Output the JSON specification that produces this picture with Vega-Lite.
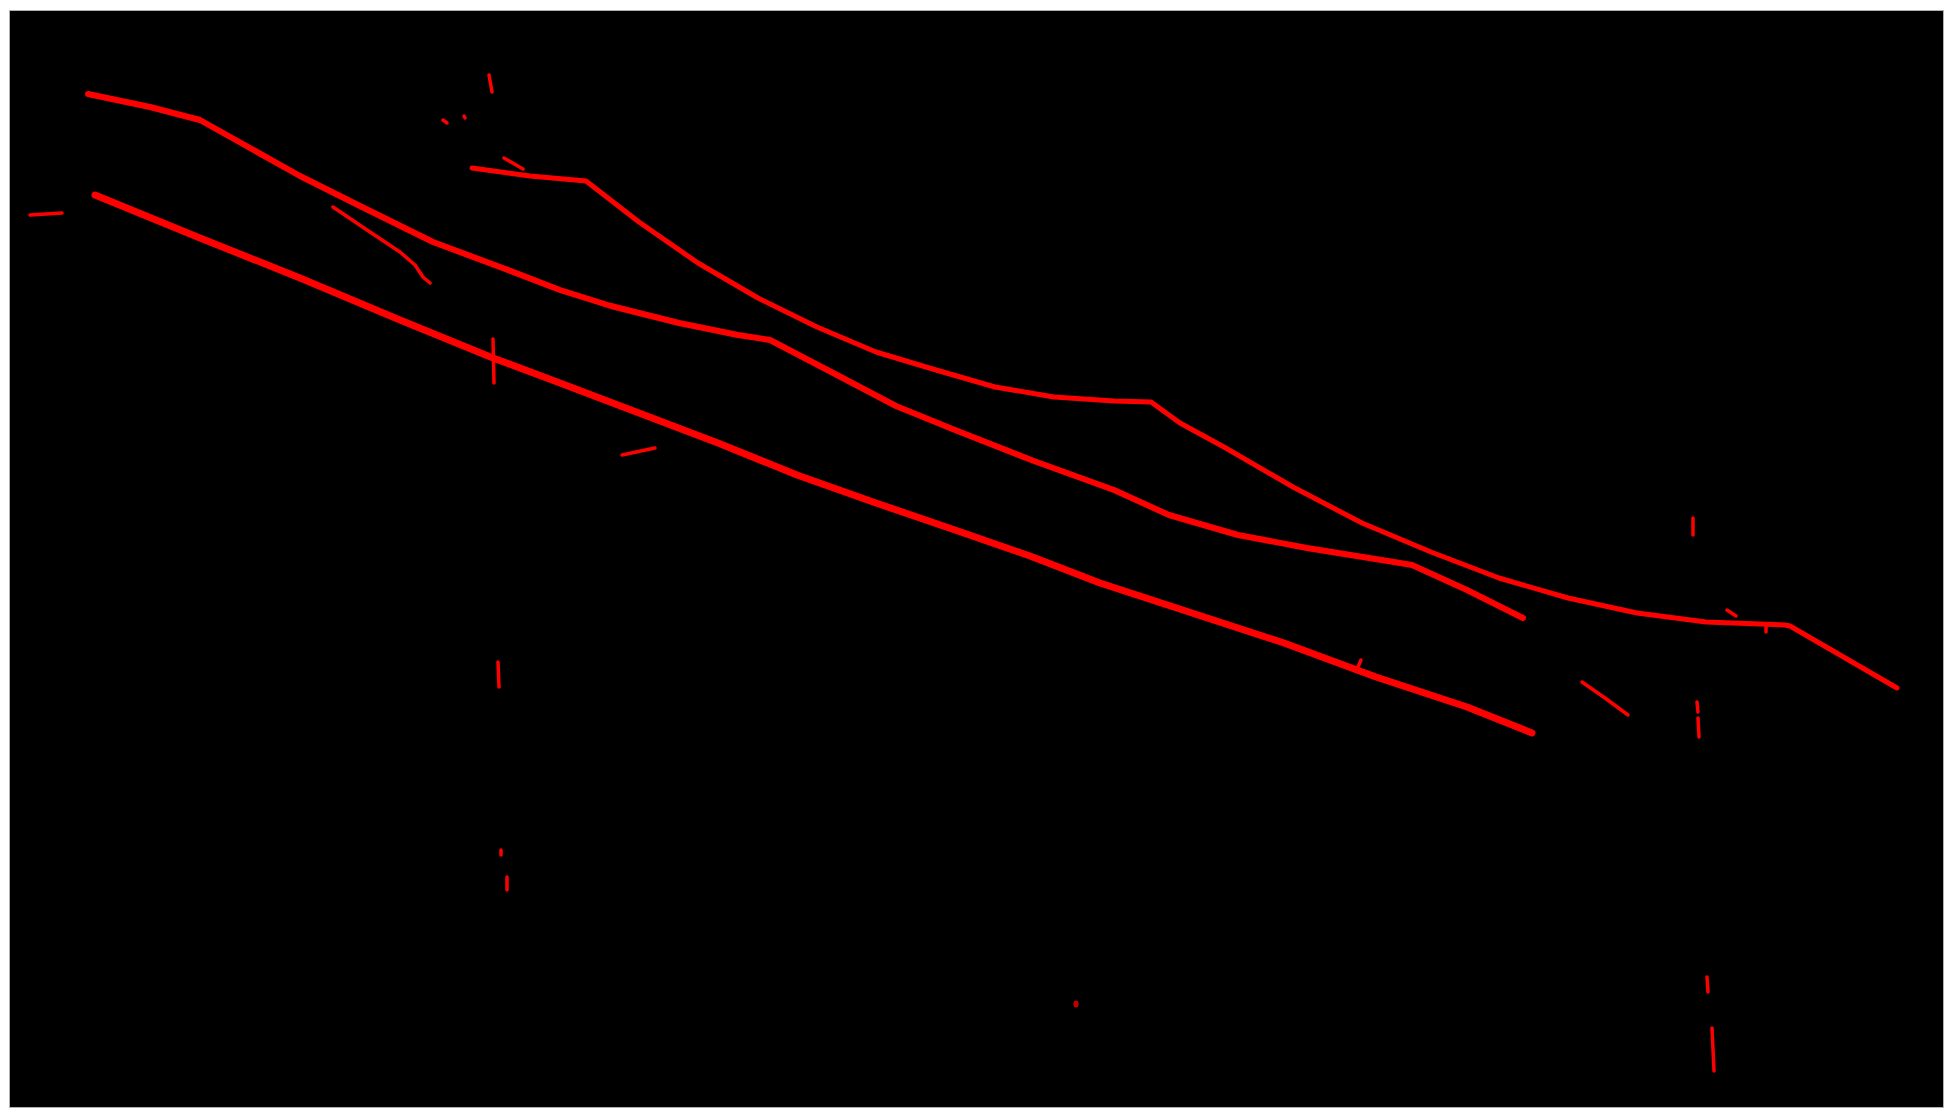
{
  "$schema": "https://vega.github.io/schema/vega-lite/v6.json",
  "autosize": {"type": "fit", "contains": "padding"},
  "width": 1951,
  "height": 1119,
  "padding": {"left": 9, "top": 10, "right": 8, "bottom": 12},
  "background": "white",
  "config": {"view": {"fill": "black", "stroke": "#b0b0b0", "strokeWidth": 1}},
  "datasets": {
    "lineA": [
      {"i":0,"x":88,"y":94},{"i":1,"x":150,"y":107},{"i":2,"x":200,"y":120},{"i":3,"x":250,"y":148},
      {"i":4,"x":300,"y":176},{"i":5,"x":360,"y":206},{"i":6,"x":433,"y":242},{"i":7,"x":500,"y":267},
      {"i":8,"x":560,"y":290},{"i":9,"x":611,"y":306},{"i":10,"x":679,"y":323},{"i":11,"x":738,"y":335},
      {"i":12,"x":770,"y":340},{"i":13,"x":837,"y":375},{"i":14,"x":896,"y":406},{"i":15,"x":955,"y":430},
      {"i":16,"x":1034,"y":461},{"i":17,"x":1114,"y":490},{"i":18,"x":1169,"y":515},{"i":19,"x":1238,"y":535},
      {"i":20,"x":1307,"y":548},{"i":21,"x":1394,"y":562},{"i":22,"x":1412,"y":565},{"i":23,"x":1467,"y":590},
      {"i":24,"x":1523,"y":618}
    ],
    "lineB": [
      {"i":0,"x":95,"y":195},{"i":1,"x":200,"y":238},{"i":2,"x":300,"y":278},{"i":3,"x":400,"y":320},
      {"i":4,"x":493,"y":358},{"i":5,"x":560,"y":383},{"i":6,"x":639,"y":413},{"i":7,"x":718,"y":443},
      {"i":8,"x":797,"y":475},{"i":9,"x":876,"y":503},{"i":10,"x":955,"y":530},{"i":11,"x":1030,"y":556},
      {"i":12,"x":1100,"y":583},{"i":13,"x":1192,"y":613},{"i":14,"x":1284,"y":643},{"i":15,"x":1376,"y":677},
      {"i":16,"x":1467,"y":707},{"i":17,"x":1532,"y":733}
    ],
    "lineC": [
      {"i":0,"x":472,"y":168},{"i":1,"x":530,"y":176},{"i":2,"x":586,"y":181},{"i":3,"x":639,"y":222},
      {"i":4,"x":698,"y":263},{"i":5,"x":758,"y":298},{"i":6,"x":817,"y":327},{"i":7,"x":876,"y":352},
      {"i":8,"x":936,"y":370},{"i":9,"x":995,"y":387},{"i":10,"x":1054,"y":397},{"i":11,"x":1114,"y":401},
      {"i":12,"x":1151,"y":402},{"i":13,"x":1180,"y":423},{"i":14,"x":1224,"y":447},{"i":15,"x":1293,"y":487},
      {"i":16,"x":1362,"y":523},{"i":17,"x":1431,"y":552},{"i":18,"x":1499,"y":578},{"i":19,"x":1568,"y":598},
      {"i":20,"x":1637,"y":613},{"i":21,"x":1706,"y":622},{"i":22,"x":1785,"y":625},{"i":23,"x":1790,"y":626},
      {"i":24,"x":1897,"y":688}
    ],
    "small": [
      {"seg":"s1","i":0,"x":30,"y":215},{"seg":"s1","i":1,"x":62,"y":213},
      {"seg":"s2","i":0,"x":489,"y":75},{"seg":"s2","i":1,"x":492,"y":92},
      {"seg":"s3","i":0,"x":443,"y":120},{"seg":"s3","i":1,"x":447,"y":123},
      {"seg":"s4","i":0,"x":464,"y":116},{"seg":"s4","i":1,"x":465,"y":118},
      {"seg":"s5","i":0,"x":504,"y":158},{"seg":"s5","i":1,"x":523,"y":169},
      {"seg":"s6","i":0,"x":333,"y":207},{"seg":"s6","i":1,"x":367,"y":230},{"seg":"s6","i":2,"x":400,"y":252},
      {"seg":"s6","i":3,"x":415,"y":265},{"seg":"s6","i":4,"x":423,"y":277},{"seg":"s6","i":5,"x":430,"y":283},
      {"seg":"s7","i":0,"x":493,"y":339},{"seg":"s7","i":1,"x":494,"y":383},
      {"seg":"s8","i":0,"x":622,"y":455},{"seg":"s8","i":1,"x":655,"y":448},
      {"seg":"s9","i":0,"x":498,"y":662},{"seg":"s9","i":1,"x":499,"y":687},
      {"seg":"s10","i":0,"x":501,"y":850},{"seg":"s10","i":1,"x":501,"y":855},
      {"seg":"s11","i":0,"x":507,"y":877},{"seg":"s11","i":1,"x":507,"y":890},
      {"seg":"s13","i":0,"x":1357,"y":669},{"seg":"s13","i":1,"x":1361,"y":660},
      {"seg":"s14","i":0,"x":1693,"y":518},{"seg":"s14","i":1,"x":1693,"y":535},
      {"seg":"s15","i":0,"x":1727,"y":610},{"seg":"s15","i":1,"x":1736,"y":616},
      {"seg":"s16","i":0,"x":1582,"y":682},{"seg":"s16","i":1,"x":1605,"y":698},{"seg":"s16","i":2,"x":1628,"y":715},
      {"seg":"s17","i":0,"x":1697,"y":702},{"seg":"s17","i":1,"x":1698,"y":712},
      {"seg":"s17b","i":0,"x":1698,"y":718},{"seg":"s17b","i":1,"x":1699,"y":737},
      {"seg":"s18","i":0,"x":1707,"y":977},{"seg":"s18","i":1,"x":1708,"y":992},
      {"seg":"s19","i":0,"x":1712,"y":1028},{"seg":"s19","i":1,"x":1714,"y":1071},
      {"seg":"s20","i":0,"x":1766,"y":626},{"seg":"s20","i":1,"x":1766,"y":632}
    ],
    "dots": [
      {"seg":"d1","i":0,"x":1076,"y":1003},{"seg":"d1","i":1,"x":1076,"y":1005}
    ]
  },
  "encoding": {
    "x": {"field": "x", "type": "quantitative", "scale": {"domain": [9, 1943], "nice": false, "zero": false}, "axis": null},
    "y": {"field": "y", "type": "quantitative", "scale": {"domain": [10, 1107], "nice": false, "zero": false, "reverse": true}, "axis": null},
    "order": {"field": "i", "type": "quantitative"}
  },
  "layer": [
    {"data": {"name": "lineB"}, "mark": {"type": "line", "color": "#ff0000", "strokeWidth": 7, "strokeCap": "round", "strokeJoin": "round"}},
    {"data": {"name": "lineA"}, "mark": {"type": "line", "color": "#ff0000", "strokeWidth": 6, "strokeCap": "round", "strokeJoin": "round"}},
    {"data": {"name": "lineC"}, "mark": {"type": "line", "color": "#ff0000", "strokeWidth": 5, "strokeCap": "round", "strokeJoin": "round"}},
    {"data": {"name": "small"}, "mark": {"type": "line", "color": "#ff0000", "strokeWidth": 3.5, "strokeCap": "round", "strokeJoin": "round"}, "encoding": {"detail": {"field": "seg", "type": "nominal"}}},
    {"data": {"name": "dots"}, "mark": {"type": "line", "color": "#c00000", "strokeWidth": 5, "strokeCap": "round"}, "encoding": {"detail": {"field": "seg", "type": "nominal"}}}
  ]
}
